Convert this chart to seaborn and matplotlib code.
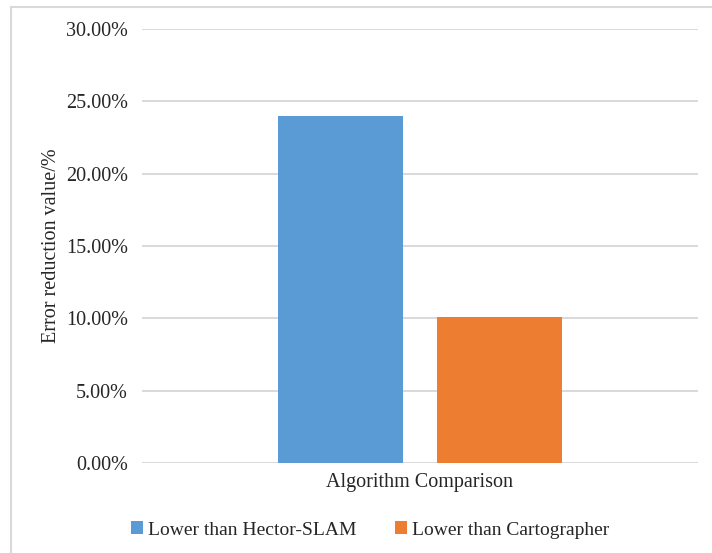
import matplotlib
matplotlib.use("Agg")
import matplotlib.pyplot as plt
import matplotlib.ticker as mticker
from matplotlib.lines import Line2D
from matplotlib.patches import Patch
import seaborn as sns
import pandas as pd

# Data
category = ["Algorithm Comparison"]
series = ["Lower than Hector-SLAM", "Lower than Cartographer"]
values = [24.0, 10.1]          # error reduction, percent
colors = ["#5B9BD5", "#ED7D31"]
y_ticks = [0, 5, 10, 15, 20, 25, 30]

df = pd.DataFrame({
    "category": category * len(series),
    "series": series,
    "value": values,
})

sns.set_theme(style="white")
plt.rcParams["font.family"] = ["Liberation Serif", "DejaVu Serif"]

fig = plt.figure(figsize=(7.12, 5.53), dpi=100)
ax = fig.add_axes([142 / 712, 1 - 463 / 553, 556 / 712, 434 / 553])

sns.barplot(data=df, x="category", y="value", hue="series",
            palette=colors, width=0.572, gap=0.21, saturation=1,
            edgecolor="none", linewidth=0, ax=ax, legend=False, zorder=3)

ax.set_xlim(-0.5, 0.5)
ax.set_ylim(0, 30)
ax.set_yticks(y_ticks)
ax.yaxis.set_major_formatter(mticker.FuncFormatter(lambda v, p: f"{v:.2f}%"))
ax.grid(axis="y", color="#d9d9d9", linewidth=1.4, zorder=0)
ax.grid(axis="x", visible=False)
for s in ax.spines.values():
    s.set_visible(False)
ax.tick_params(axis="y", length=0, labelsize=14.5, colors="#262626", pad=10)
ax.tick_params(axis="x", length=0, labelsize=14.5, colors="#262626", pad=7)
ax.set_xlabel("")
ax.set_ylabel("Error reduction value/%", fontsize=14.5, color="#262626")
ax.yaxis.set_label_coords((61 - 142) / 556, 0.5)

# Legend below the plot
handles = [Patch(facecolor=c, edgecolor="none") for c in colors]
fig.legend(handles, series, loc="center", bbox_to_anchor=(370 / 712, 1 - 530 / 553),
           ncol=2, frameon=False, fontsize=14, handlelength=0.6, handleheight=0.6,
           handletextpad=0.25, columnspacing=2.0, labelcolor="#262626")

# Chart area outline (top and left edges)
fig.add_artist(Line2D([11 / 712, 11 / 712], [0, 1 - 7 / 553], transform=fig.transFigure,
                      color="#d9d9d9", linewidth=1.5))
fig.add_artist(Line2D([11 / 712, 1], [1 - 7 / 553, 1 - 7 / 553], transform=fig.transFigure,
                      color="#d9d9d9", linewidth=1.5))

fig.savefig("out.png", dpi=100, facecolor="white")
